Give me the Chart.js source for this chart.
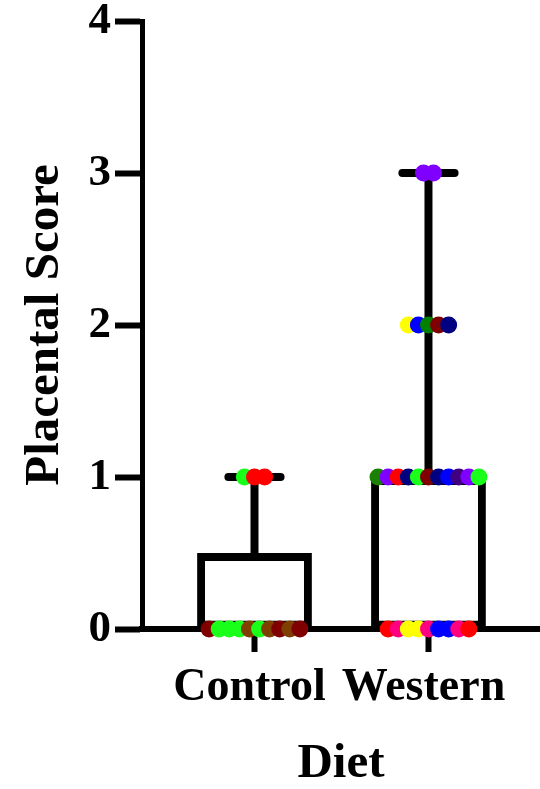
<!DOCTYPE html>
<html>
<head>
<meta charset="utf-8">
<script src="https://cdn.jsdelivr.net/npm/chart.js@4/dist/chart.umd.min.js"></script>
<style>
  html, body { margin: 0; padding: 0; background: #fff; }
  #wrap { width: 540px; height: 789px; }
</style>
</head>
<body>
<div id="wrap"><canvas id="chart" width="540" height="789"></canvas></div>
<script>
// groups on the x axis
const groups = ["Control", "Western"];

// box stats per group
const boxLow = [0, 0];
const boxHigh = [0.5, 1];
const whiskerMax = [1, 3];

// individual scores, left to right inside each row
const controlScores = [0, 0, 0, 0, 0, 0, 0, 0, 0, 0, 1, 1, 1];
const controlColors = [
    "#800000", "#19ff19", "#19ff19", "#19ff19", "#7f3f00", "#19ff19", "#7f3f00", "#800000", "#7f3f00", "#800000",
    "#19ff19", "#ff0000", "#ff0000"
];
const westernScores = [0, 0, 0, 0, 0, 0, 0, 0, 0, 1, 1, 1, 1, 1, 1, 1, 1, 1, 1, 1, 2, 2, 2, 2, 2, 3, 3];
const westernColors = [
    "#ff0000", "#ff0080", "#ffff00", "#ffff00", "#ff0080", "#0000ff", "#0000ff", "#ff0080", "#ff0000",
    "#1a8000", "#8000ff", "#ff0000", "#000080", "#19ff19", "#800000", "#000080", "#0000ff", "#400080", "#8000ff", "#19ff19",
    "#ffff00", "#0000ff", "#008000", "#800000", "#000080",
    "#8000ff", "#8000ff"
];

const yTicks = [0, 1, 2, 3, 4];

// spread the dots that share a score side by side
function spreadPoints(scores, center) {
    const step = 0.058;
    const counts = {}, seen = {};
    scores.forEach(v => { counts[v] = (counts[v] || 0) + 1; });
    return scores.map(v => {
        const k = seen[v] || 0;
        seen[v] = k + 1;
        return { x: center + (k - (counts[v] - 1) / 2) * step, y: v };
    });
}

const dots = spreadPoints(controlScores, 0).concat(spreadPoints(westernScores, 1));
const dotColors = controlColors.concat(westernColors);

const boxData = groups.map((g, i) => ({ x: i, y: [boxLow[i], boxHigh[i]] }));

const serif = "'Liberation Serif', 'Times New Roman', serif";

// whiskers and caps drawn right after the boxes
const whiskers = {
    id: "whiskers",
    afterDatasetDraw(chart, args) {
        if (args.index !== 0) return;
        const ctx = chart.ctx;
        const xs = chart.scales.x, ys = chart.scales.y;
        ctx.save();
        ctx.strokeStyle = "#000";
        ctx.lineWidth = 8;
        ctx.lineCap = "butt";
        groups.forEach((g, i) => {
            const cx = xs.getPixelForValue(i);
            ctx.beginPath();
            ctx.moveTo(cx, ys.getPixelForValue(boxHigh[i]));
            ctx.lineTo(cx, ys.getPixelForValue(whiskerMax[i]));
            ctx.stroke();
        });
        ctx.lineCap = "round";
        groups.forEach((g, i) => {
            const y = ys.getPixelForValue(whiskerMax[i]);
            ctx.beginPath();
            ctx.moveTo(xs.getPixelForValue(i - 0.15), y);
            ctx.lineTo(xs.getPixelForValue(i + 0.15), y);
            ctx.stroke();
        });
        ctx.restore();
    }
};

new Chart(document.getElementById("chart"), {
    data: {
        datasets: [
            {
                type: "bar",
                data: boxData,
                backgroundColor: "#fff",
                borderColor: "#000",
                borderWidth: 8,
                borderSkipped: false,
                categoryPercentage: 1,
                barPercentage: 0.66,
                order: 2
            },
            {
                type: "scatter",
                data: dots,
                clip: false,
                pointRadius: 8.5,
                pointHoverRadius: 8.5,
                pointBorderWidth: 0,
                pointBackgroundColor: dotColors,
                order: 1
            }
        ]
    },
    options: {
        responsive: false,
        animation: false,
        layout: { padding: 0, autoPadding: false },
        plugins: {
            legend: { display: false },
            tooltip: { enabled: false }
        },
        scales: {
            x: {
                type: "linear",
                offset: false,
                min: -0.6466,
                max: 1.641,
                afterBuildTicks: s => { s.ticks = groups.map((g, i) => ({ value: i })); },
                afterFit: s => { s.height = 160; s.paddingLeft = 0; s.paddingRight = 0; },
                ticks: {
                    callback: v => groups[v],
                    color: "#000",
                    padding: 9,
                    labelOffset: -5,
                    maxRotation: 0,
                    font: { family: serif, size: 46, weight: "bold" }
                },
                grid: {
                    offset: false,
                    drawOnChartArea: false,
                    drawTicks: true,
                    tickLength: 23,
                    tickWidth: 6,
                    color: "#000"
                },
                border: { display: true, color: "#000", width: 6 },
                title: {
                    display: true,
                    text: "Diet",
                    color: "#000",
                    padding: { top: 20, bottom: 0 },
                    font: { family: serif, size: 49, weight: "bold", lineHeight: 1.0 }
                }
            },
            y: {
                type: "linear",
                min: 0,
                max: 4,
                afterBuildTicks: s => { s.ticks = yTicks.map(v => ({ value: v })); },
                afterFit: s => { s.width = 142; s.paddingTop = 21; s.paddingBottom = 0; },
                ticks: {
                    color: "#000",
                    padding: 4,
                    font: { family: serif, size: 45, weight: "bold" }
                },
                grid: {
                    drawOnChartArea: false,
                    drawTicks: true,
                    tickLength: 27,
                    tickWidth: 6,
                    color: "#000"
                },
                border: { display: true, color: "#000", width: 5 },
                title: {
                    display: true,
                    text: "Placental Score",
                    color: "#000",
                    padding: { top: 16, bottom: 0 },
                    font: { family: serif, size: 49, weight: "bold" }
                }
            }
        }
    },
    plugins: [whiskers]
});
</script>
</body>
</html>
